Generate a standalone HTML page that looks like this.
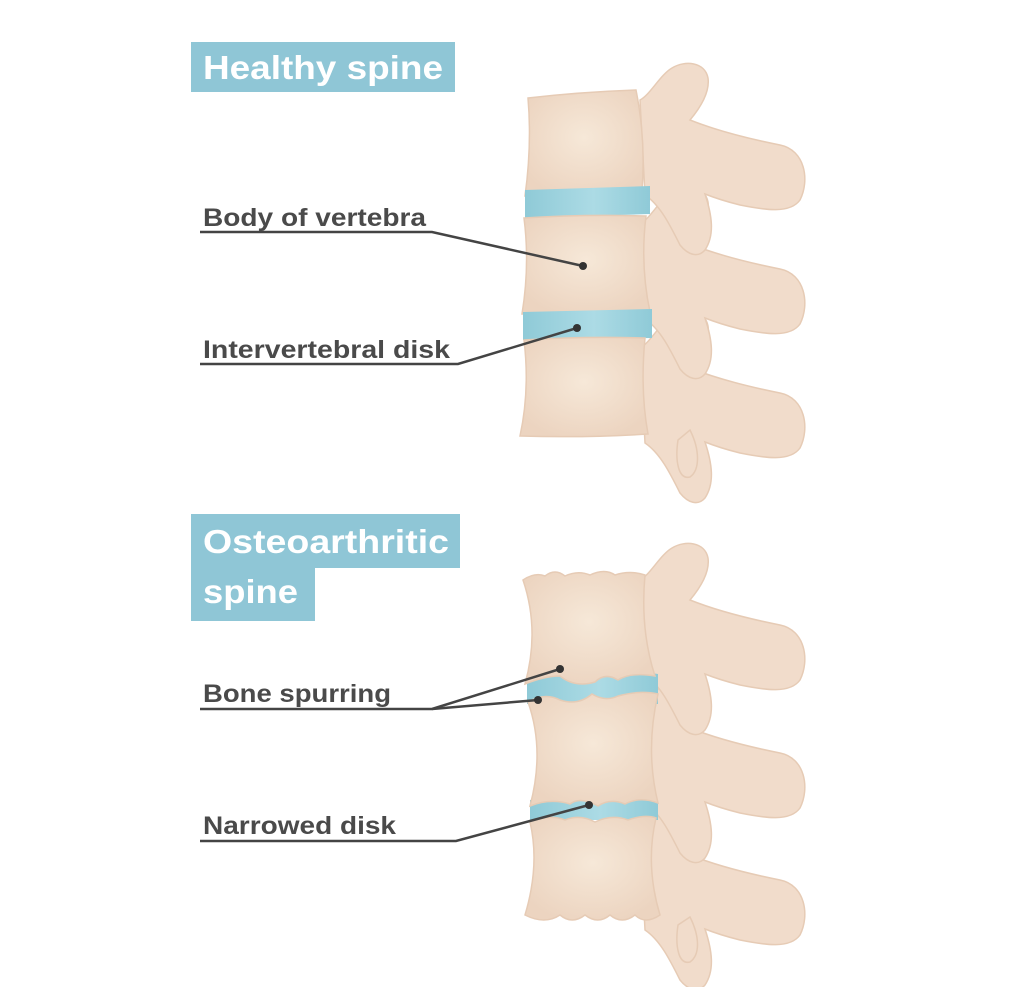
<!DOCTYPE html>
<html><head><meta charset="utf-8"><style>
html,body{margin:0;padding:0;background:#fff;}
svg{display:block;}
.lbl{font-family:"Liberation Sans",sans-serif;font-weight:bold;font-size:25px;fill:#4a4a4a;}
.ttl{font-family:"Liberation Sans",sans-serif;font-weight:bold;font-size:33px;fill:#fff;}
</style></head><body>
<svg width="1024" height="987" viewBox="0 0 1024 987" xmlns="http://www.w3.org/2000/svg">
<defs>
<radialGradient id="bone" cx="50%" cy="45%" r="60%">
<stop offset="0" stop-color="#f6e8d8"/><stop offset="1" stop-color="#ecd4c0"/>
</radialGradient>
<linearGradient id="disk" x1="0" x2="1">
<stop offset="0" stop-color="#8fcad7"/><stop offset="0.55" stop-color="#acdbe5"/><stop offset="1" stop-color="#8fcad7"/>
</linearGradient>
<g id="proc">
<path d="M640,100 C650,95 660,75 672,68 C685,60 705,62 708,78 C710,92 700,108 690,120 C720,132 755,140 780,145 C805,150 810,180 800,200 C790,214 765,210 740,205 C728,202 715,198 705,194 C712,215 715,235 705,250 C698,258 688,255 680,245 C670,225 660,205 645,195 Z" fill="#f1dccb" stroke="#e6cbb5" stroke-width="1.5"/>
</g>
</defs>

<rect x="191" y="42" width="264" height="50" fill="#8fc6d6"/>
<text class="ttl" x="203" y="79" textLength="240" lengthAdjust="spacingAndGlyphs">Healthy spine</text>

<use href="#proc" transform="translate(0,248)"/>
<path d="M690,430 C700,450 700,470 690,477 C678,480 675,460 678,440 Z" fill="#f1dccb" stroke="#e6cbb5" stroke-width="1.5"/>
<use href="#proc" transform="translate(0,124)"/>
<use href="#proc"/>

<path d="M528,98 Q580,92 636,90 Q646,140 642,190 Q585,194 525,196 Q532,145 528,98 Z" fill="url(#bone)" stroke="#e6cbb5" stroke-width="1.5"/>
<path d="M525,190 L650,186 L650,214 L525,218 Z" fill="url(#disk)"/>
<path d="M524,218 Q585,214 646,216 Q640,265 650,312 Q585,314 522,314 Q530,265 524,218 Z" fill="url(#bone)" stroke="#e6cbb5" stroke-width="1.5"/>
<path d="M523,312 L652,309 L652,338 L523,340 Z" fill="url(#disk)"/>
<path d="M524,340 Q585,336 645,338 Q640,390 648,434 Q585,438 520,436 Q530,390 524,340 Z" fill="url(#bone)" stroke="#e6cbb5" stroke-width="1.5"/>

<text class="lbl" x="203" y="226" textLength="223" lengthAdjust="spacingAndGlyphs">Body of vertebra</text>
<polyline points="200,232 432,232 583,266" fill="none" stroke="#444" stroke-width="2.5"/>
<circle cx="583" cy="266" r="4" fill="#333"/>
<text class="lbl" x="203" y="358" textLength="247" lengthAdjust="spacingAndGlyphs">Intervertebral disk</text>
<polyline points="200,364 458,364 577,328" fill="none" stroke="#444" stroke-width="2.5"/>
<circle cx="577" cy="328" r="4" fill="#333"/>

<rect x="191" y="514" width="269" height="54" fill="#8fc6d6"/>
<rect x="191" y="566" width="124" height="55" fill="#8fc6d6"/>
<text class="ttl" x="203" y="553" textLength="246" lengthAdjust="spacingAndGlyphs">Osteoarthritic</text>
<text class="ttl" x="203" y="603" textLength="95" lengthAdjust="spacingAndGlyphs">spine</text>

<use href="#proc" transform="translate(0,735)"/>
<path d="M690,917 C700,937 700,955 690,962 C678,965 675,945 678,925 Z" fill="#f1dccb" stroke="#e6cbb5" stroke-width="1.5"/>
<use href="#proc" transform="translate(0,608)"/>
<use href="#proc" transform="translate(0,480)"/>

<path d="M527,676 Q560,668 590,678 Q620,668 658,674 L658,704 L527,704 Z" fill="url(#disk)"/>
<path d="M530,800 Q560,794 590,802 Q620,794 658,800 L658,820 L530,820 Z" fill="url(#disk)"/>

<path d="M523,580 Q535,572 545,576 Q555,568 565,576 Q578,570 590,575 Q605,568 615,575 Q630,570 645,575 Q640,630 655,676 Q630,672 618,680 Q605,672 595,682 Q575,688 560,676 Q545,676 525,684 Q540,630 523,580 Z" fill="url(#bone)" stroke="#e6cbb5" stroke-width="1.5"/>
<path d="M528,702 Q545,692 560,700 Q578,706 592,694 Q605,702 618,696 Q640,690 658,694 Q645,750 658,803 Q640,796 625,804 Q610,798 598,806 Q580,796 570,804 Q550,798 530,806 Q545,750 528,702 Z" fill="url(#bone)" stroke="#e6cbb5" stroke-width="1.5"/>
<path d="M530,822 Q550,814 565,820 Q580,814 595,822 Q612,814 628,820 Q645,814 656,818 Q645,865 660,915 Q645,925 635,915 Q622,925 610,915 Q598,925 585,915 Q572,925 560,915 Q545,925 525,915 Q540,865 530,822 Z" fill="url(#bone)" stroke="#e6cbb5" stroke-width="1.5"/>

<text class="lbl" x="203" y="702" textLength="188" lengthAdjust="spacingAndGlyphs">Bone spurring</text>
<polyline points="200,709 432,709 560,669" fill="none" stroke="#444" stroke-width="2.5"/>
<line x1="432" y1="709" x2="538" y2="700" stroke="#444" stroke-width="2.5"/>
<circle cx="560" cy="669" r="4" fill="#333"/>
<circle cx="538" cy="700" r="4" fill="#333"/>
<text class="lbl" x="203" y="834" textLength="193" lengthAdjust="spacingAndGlyphs">Narrowed disk</text>
<polyline points="200,841 456,841 589,805" fill="none" stroke="#444" stroke-width="2.5"/>
<circle cx="589" cy="805" r="4" fill="#333"/>
</svg>
</body></html>
